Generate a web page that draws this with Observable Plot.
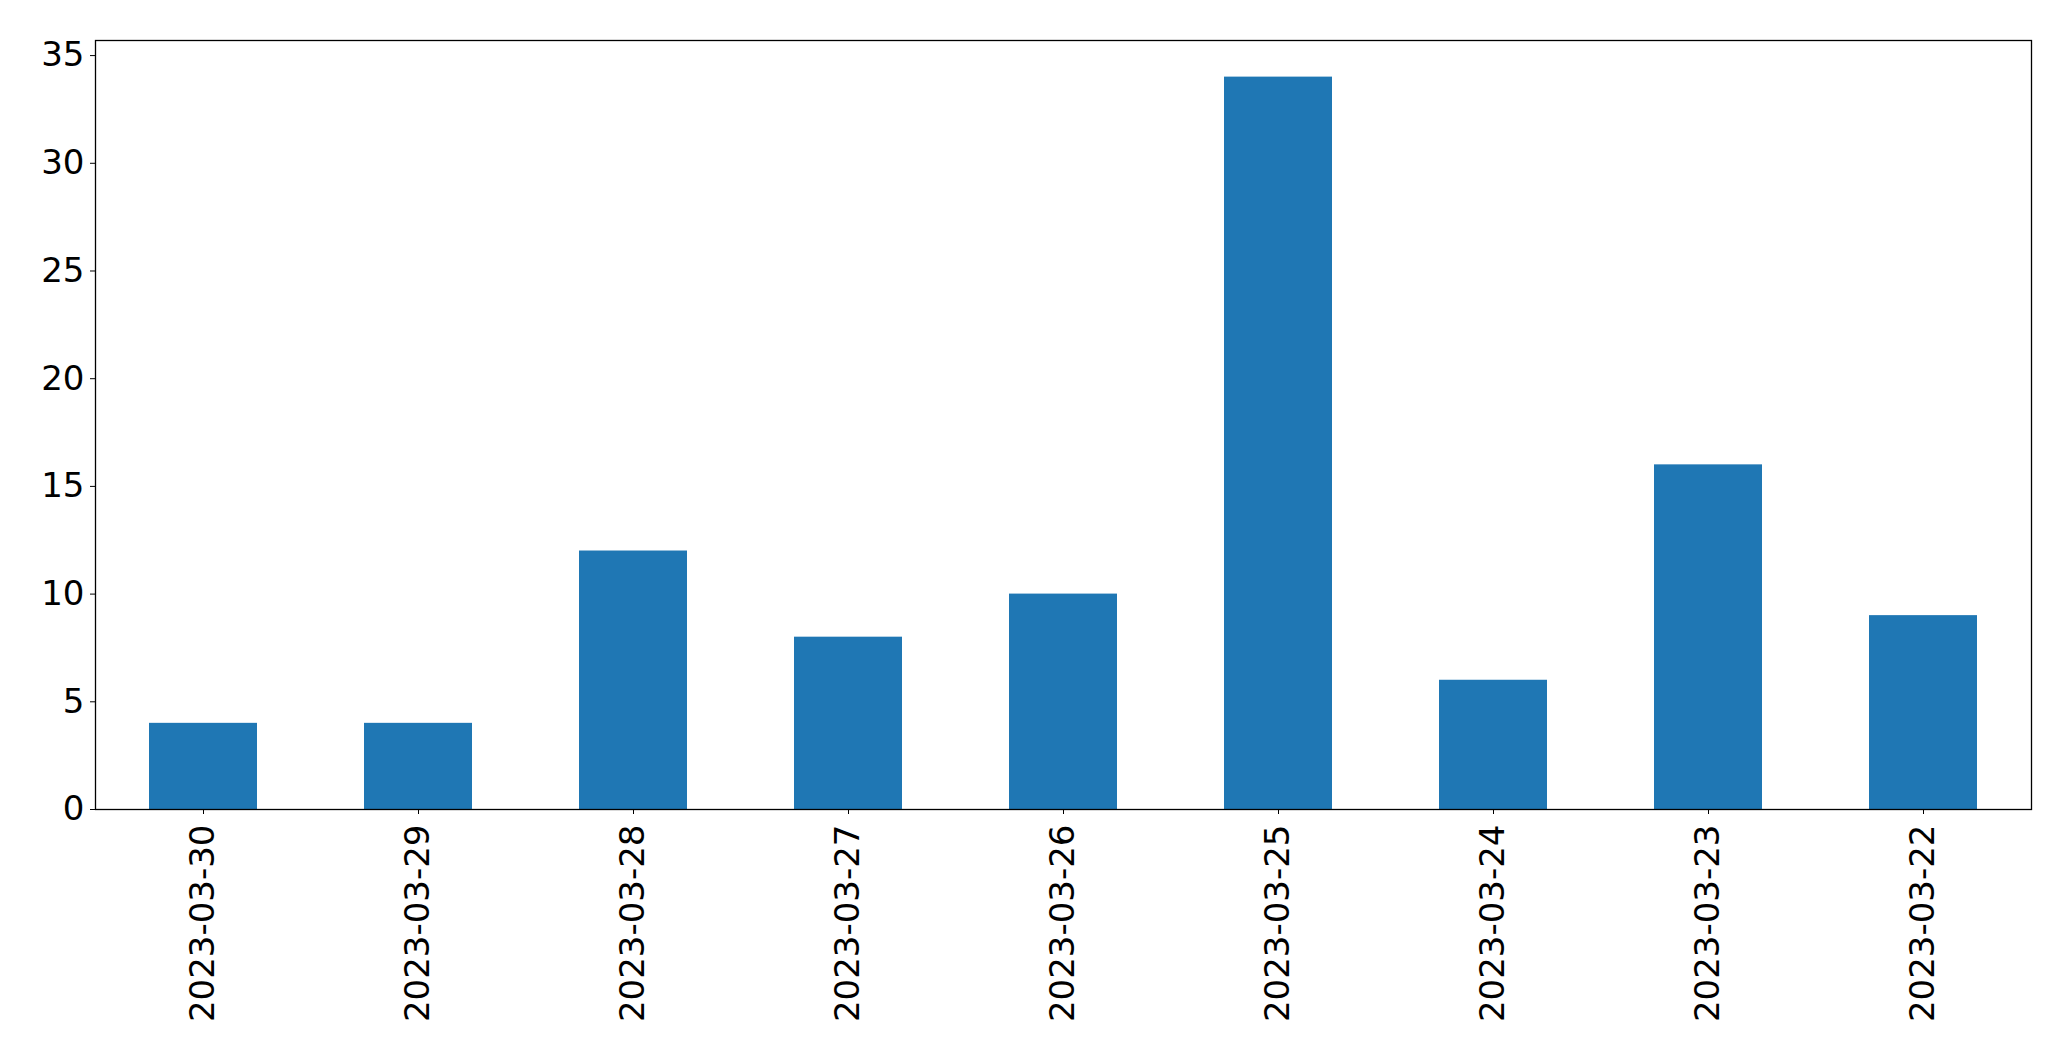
<!DOCTYPE html>
<html>
<head>
<meta charset="utf-8">
<script src="https://cdn.jsdelivr.net/npm/d3@7"></script>
<script src="https://cdn.jsdelivr.net/npm/@observablehq/plot@0.6"></script>
<style>
  html, body { margin: 0; padding: 0; background: #fff; }
  svg { display: block; }
</style>
</head>
<body>
<div id="chart"></div>
<script>
const dates = ["2023-03-30","2023-03-29","2023-03-28","2023-03-27","2023-03-26","2023-03-25","2023-03-24","2023-03-23","2023-03-22"];
const counts = [4, 4, 12, 8, 10, 34, 6, 16, 9];
const yTicks = [0, 5, 10, 15, 20, 25, 30, 35];

const data = dates.map((d, i) => ({date: d, count: counts[i]}));

const chart = Plot.plot({
  width: 2071,
  height: 1061,
  marginLeft: 95,
  marginRight: 40,
  marginTop: 40,
  marginBottom: 252,
  style: {fontFamily: "DejaVu Sans", background: "#fff", color: "#000"},
  x: {domain: dates, paddingInner: 0.5, paddingOuter: 0.25},
  y: {domain: [0, 35.7]},
  marks: [
    Plot.barY(data, {x: "date", y: "count", fill: "#1f77b4"}),
    Plot.axisY({ticks: yTicks, tickSize: 5, tickPadding: 6, fontSize: 34, label: null, stroke: "#000"}),
    Plot.axisX({tickSize: 5, tickPadding: 10, tickRotate: -90, fontSize: 34, label: null, stroke: "#000"}),
    Plot.frame({stroke: "#000", strokeWidth: 1.3})
  ]
});
document.getElementById("chart").appendChild(chart);
</script>
</body>
</html>
